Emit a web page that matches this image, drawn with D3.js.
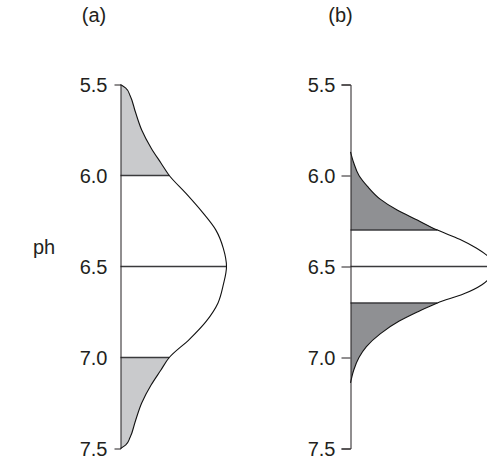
<!DOCTYPE html>
<html>
<head>
<meta charset="utf-8">
<script src="https://cdn.jsdelivr.net/npm/d3@7"></script>
<style>
  html, body { margin: 0; padding: 0; background: #fff; }
  svg { display: block; font-family: "Liberation Sans", Arial, Helvetica, sans-serif; }
  .lbl { fill: #231f20; font-size: 20px; }
  .axis text { fill: #231f20; font-size: 20px; font-family: "Liberation Sans", Arial, sans-serif; }
  .axis path, .axis line { stroke: #231f20; stroke-width: 1; }
</style>
</head>
<body>
<svg id="chart" width="487" height="460"></svg>
<script>
// pH axis ticks
const phTicks = [5.5, 6.0, 6.5, 7.0, 7.5];

// (a) broad pH distribution: pH values and relative density
const phA = [5.50, 5.52, 5.56, 5.65, 5.75, 5.85, 5.93, 6.00, 6.10, 6.20, 6.30, 6.40, 6.50,
             6.60, 6.70, 6.80, 6.90, 7.00, 7.07, 7.15, 7.25, 7.35, 7.44, 7.48, 7.50];
const densA = [0.00, 0.05, 0.09, 0.14, 0.20, 0.29, 0.38, 0.46, 0.62, 0.77, 0.90, 0.97, 1.00,
               0.97, 0.92, 0.81, 0.65, 0.46, 0.38, 0.29, 0.20, 0.14, 0.09, 0.05, 0.00];
const cutsA = [6.0, 6.5, 7.0];      // horizontal marks; outer two bound the shaded tails

// (b) narrow pH distribution
const phB = [5.87, 5.93, 6.00, 6.06, 6.13, 6.19, 6.245, 6.30, 6.35, 6.40, 6.45, 6.50,
             6.55, 6.60, 6.65, 6.70, 6.75, 6.80, 6.87, 6.94, 7.00, 7.07, 7.14];
const densB = [0.00, 0.03, 0.08, 0.16, 0.28, 0.44, 0.63, 0.82, 1.03, 1.19, 1.31, 1.37,
               1.33, 1.24, 1.07, 0.82, 0.63, 0.46, 0.28, 0.15, 0.08, 0.03, 0.00];
const cutsB = [6.3, 6.5, 6.7];

const panelLabels = ["(a)", "(b)"];
const yTitle = "ph";

const svg = d3.select("#chart");

const y = d3.scaleLinear().domain([5.5, 7.5]).range([84.5, 448.5]);
const x = d3.scaleLinear().domain([0, 1]).range([0, 106]);

const panels = [
  { ph: phA, dens: densA, cuts: cutsA, axisX: 120.5, fill: "#c9cacc",
    inner: 0, outer: 6, pad: 13, label: panelLabels[0], labelX: 94 },
  { ph: phB, dens: densB, cuts: cutsB, axisX: 350.5, fill: "#8f9093",
    inner: 9, outer: 9, pad: 6, label: panelLabels[1], labelX: 340.5 }
];

const defs = svg.append("defs");

panels.forEach((p, i) => {
  const pts = p.ph.map((v, k) => ({ ph: v, d: p.dens[k] }));
  const g = svg.append("g").attr("transform", `translate(${p.axisX},0)`);

  const area = d3.area().curve(d3.curveMonotoneY)
    .y(d => y(d.ph)).x0(0).x1(d => x(d.d));
  const line = d3.line().curve(d3.curveMonotoneY)
    .y(d => y(d.ph)).x(d => x(d.d));

  // clip the shaded area to the two tails
  const lo = p.cuts[0], hi = p.cuts[p.cuts.length - 1];
  const clip = defs.append("clipPath").attr("id", "tails" + i);
  clip.append("rect").attr("x", 0).attr("width", 400)
    .attr("y", y(5.5) - 20).attr("height", y(lo) - y(5.5) + 20);
  clip.append("rect").attr("x", 0).attr("width", 400)
    .attr("y", y(hi)).attr("height", y(7.5) - y(hi) + 20);

  g.append("path").datum(pts).attr("d", area)
    .attr("fill", p.fill).attr("clip-path", `url(#tails${i})`);

  // horizontal marks from axis to the curve
  p.cuts.forEach(c => {
    const k = p.ph.indexOf(c);
    const dv = p.dens[k];
    g.append("line")
      .attr("x1", 0).attr("x2", x(dv))
      .attr("y1", y(c)).attr("y2", y(c))
      .attr("stroke", "#3a3a3c").attr("stroke-width", 1.5);
  });

  g.append("path").datum(pts).attr("d", line)
    .attr("fill", "none").attr("stroke", "#111").attr("stroke-width", 1.1);

  const axis = d3.axisLeft(y).tickValues(phTicks).tickFormat(d3.format(".1f"))
    .tickSizeInner(p.inner).tickSizeOuter(p.outer).tickPadding(p.pad);
  g.append("g").attr("class", "axis").call(axis)
    .call(a => a.selectAll("text").attr("dy", "0.35em"));

  svg.append("text").attr("class", "lbl")
    .attr("x", p.labelX).attr("y", 21.5).attr("text-anchor", "middle")
    .text(p.label);
});

svg.append("text").attr("class", "lbl")
  .attr("x", 33).attr("y", 254).text(yTitle);
</script>
</body>
</html>
